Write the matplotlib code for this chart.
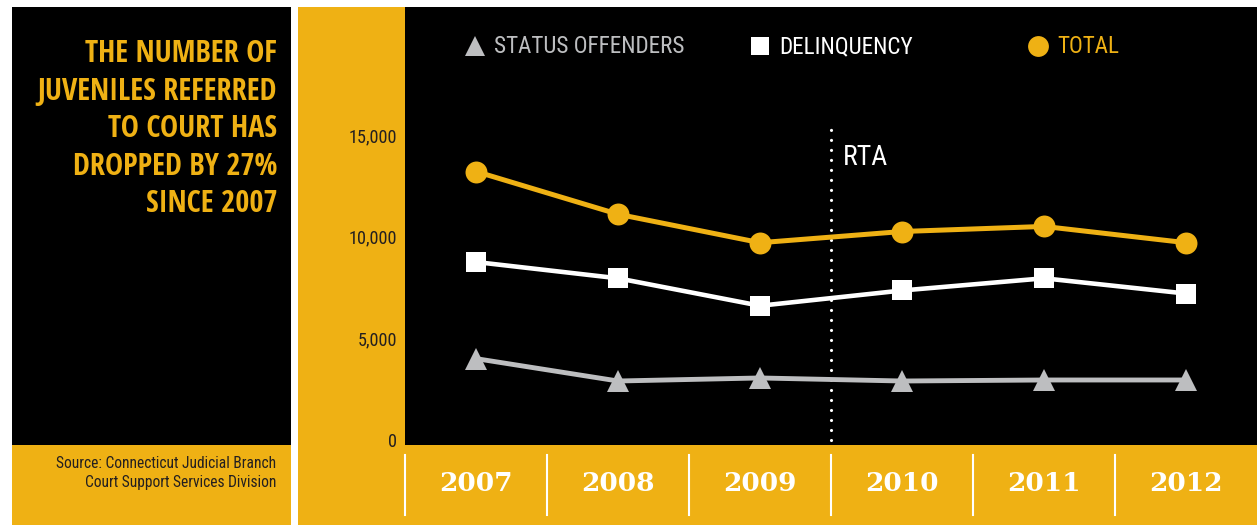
import matplotlib
matplotlib.use('Agg')
import matplotlib.pyplot as plt
from matplotlib.patches import Rectangle
from matplotlib import font_manager as fm
from matplotlib.transforms import blended_transform_factory

# ---------------- data ----------------
years = ['2007', '2008', '2009', '2010', '2011', '2012']
status_offenders = [4000, 2900, 3050, 2900, 2950, 2950]
delinquency = [8750, 7950, 6600, 7350, 7950, 7200]
total = [13200, 11100, 9700, 10250, 10500, 9700]
y_ticks = [0, 5000, 10000, 15000]
y_tick_labels = ['0', '5,000', '10,000', '15,000']
rta_position = 2.5
rta_top = 15500
title_lines = ['THE NUMBER OF', 'JUVENILES REFERRED', 'TO COURT HAS',
               'DROPPED BY 27%', 'SINCE 2007']
source_lines = ['Source: Connecticut Judicial Branch',
                'Court Support Services Division']
legend_labels = ['STATUS OFFENDERS', 'DELINQUENCY', 'TOTAL']

# ---------------- style ----------------
YELLOW = '#EFB114'
GRAY = '#BDBEC0'
WHITE = '#FFFFFF'
BLACK = '#000000'
DARK = '#231F20'

names = {f.name for f in fm.fontManager.ttflist}
NARROW = 'DejaVu Sans'
for cand in ['Liberation Sans Narrow', 'Roboto Condensed', 'Open Sans Condensed',
             'Noto Sans Condensed', 'Noto Sans ExtraCondensed', 'Arial Narrow']:
    if cand in names:
        NARROW = cand
        break
TITLE_FAMILY = NARROW
for cand in ['Noto Sans ExtraCondensed', 'Open Sans Condensed',
             'Roboto Condensed', 'Liberation Sans Narrow']:
    if cand in names:
        TITLE_FAMILY = cand
        break
NFONT = dict(family=NARROW, stretch='condensed')
TFONT = dict(family=TITLE_FAMILY, stretch='extra-condensed', weight='medium')
SERIF = 'DejaVu Serif'

W, H = 1257, 525
fig = plt.figure(figsize=(W / 100, H / 100), dpi=100, facecolor='white')
renderer = fig.canvas.get_renderer()


def fit_size(s, target_px, **kw):
    t = fig.text(0, 0, s, fontsize=10, **kw)
    w = t.get_window_extent(renderer).width
    t.remove()
    return 10 * target_px / w


def fx(px):
    return px / W


def fy(py):
    return 1 - py / H


def rect(x0, y0, x1, y1, color):
    fig.add_artist(Rectangle((fx(x0), fy(y1)), (x1 - x0) / W, (y1 - y0) / H,
                             transform=fig.transFigure, facecolor=color,
                             edgecolor='none', zorder=-1))


# background panels
rect(12, 7, 291, 445, BLACK)
rect(12, 445, 291, 525, YELLOW)
rect(298, 7, 1257, 525, YELLOW)

# title
title_fs = min(fit_size('JUVENILES REFERRED', 240, **TFONT), 25)
baselines = [62, 99.5, 137, 174.5, 212]
for line, b in zip(title_lines, baselines):
    fig.text(fx(277), fy(b), line, ha='right', va='baseline', color=YELLOW,
             fontsize=title_fs, **TFONT)

# source
source_fs = fit_size(source_lines[0], 221, **NFONT)
for line, b in zip(source_lines, [468, 487]):
    fig.text(fx(276), fy(b), line, ha='right', va='baseline', color=DARK,
             fontsize=source_fs, **NFONT)

# main axes
ax = fig.add_axes([fx(405), fy(445), (1257 - 405) / W, (445 - 7) / H])
ax.set_facecolor(BLACK)
for s in ax.spines.values():
    s.set_visible(False)

x = list(range(len(years)))
ax.plot(x, status_offenders, color=GRAY, lw=3.5, marker='^', ms=15.5, mew=0,
        mfc=GRAY, zorder=3)
ax.plot(x, delinquency, color=WHITE, lw=3.3, marker='s', ms=13.7, mew=0,
        mfc=WHITE, zorder=3)
ax.plot(x, total, color=YELLOW, lw=3.6, marker='o', ms=15.8, mew=0,
        mfc=YELLOW, zorder=3)

# RTA dotted line
lw_dot = 2.3
ax.plot([rta_position, rta_position], [0, rta_top], color=WHITE, lw=lw_dot,
        linestyle=(0, (0.001, 7.2 / lw_dot)), dash_capstyle='round', zorder=2)
rta_fs = fit_size('RTA', 45, **NFONT)
ax.text(rta_position + 12 / 142, 13520, 'RTA', color=WHITE, fontsize=rta_fs,
        ha='left', va='baseline', **NFONT)

ax.set_xlim(-0.5, len(years) - 0.5)
ax.set_ylim(-246, 21288)

ytick_fs = fit_size('10,000', 48, **NFONT)
ax.set_yticks(y_ticks)
ax.set_yticklabels(y_tick_labels, fontfamily=NARROW, fontstretch='condensed',
                   fontsize=ytick_fs, color=DARK)
ax.tick_params(axis='y', length=0, pad=5.8)

ax.set_xticks(x)
ax.set_xticklabels(years, fontfamily=SERIF, fontweight='bold', fontsize=19,
                   color=WHITE)
ax.tick_params(axis='x', length=0, pad=18.5)

# separators in the year strip
trans = blended_transform_factory(ax.transData, fig.transFigure)
for i in range(len(years)):
    ax.plot([i - 0.5, i - 0.5], [fy(455), fy(515)], transform=trans,
            color=WHITE, lw=1.5, clip_on=False)


# legend (manual)
def axf(px, py):
    return (px - 405) / 852, (445 - py) / 438


legend_fs = fit_size(legend_labels[0], 191, **NFONT)
leg_items = [
    (475, '^', 14.4, GRAY, 494),
    (760, 's', 13.0, WHITE, 779),
    (1038, 'o', 15.0, YELLOW, 1057),
]
for (mx, mk, ms, col, tx), lab in zip(leg_items, legend_labels):
    xa, ya = axf(mx, 46)
    ax.plot([xa], [ya], marker=mk, ms=ms, mew=0, color=col,
            transform=ax.transAxes, clip_on=False, zorder=4)
    xt, yt = axf(tx, 46.5)
    ax.text(xt, yt, lab, transform=ax.transAxes, color=col,
            fontsize=legend_fs, ha='left', va='center', **NFONT)

fig.savefig('out.png', dpi=100, facecolor='white')
